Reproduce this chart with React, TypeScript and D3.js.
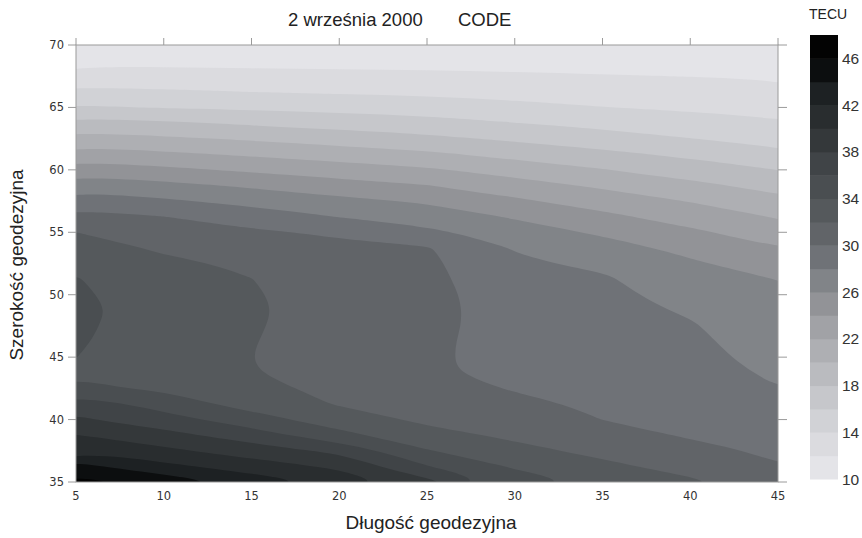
import * as d3 from 'd3'

// grid nodes: longitude columns (°E) and latitude rows (°N, north → south)
const LON = [5, 10, 15, 20, 25, 30, 35, 40, 45]
const LAT = [70, 68.75, 67.5, 66.25, 65, 63.75, 62.5, 61.25, 60, 58.75, 57.5, 56.25, 55, 53.75,
  52.5, 51.25, 50, 48.75, 47.5, 46.25, 45, 43.75, 42.5, 41.25, 40, 38.75, 37.5, 36.25, 35]

// TEC [TECU], one row per LAT, one value per LON
const TEC = [
  [10.2, 10.3, 10.2, 10.1, 10.2, 10.2, 10.2, 10.24, 10.25],
  [11.45, 11.45, 11.39, 11.32, 11.33, 11.24, 11.16, 11.1, 11.03],
  [12.88, 12.77, 12.65, 12.55, 12.45, 12.28, 12.12, 11.97, 11.81],
  [14.47, 14.25, 13.99, 13.77, 13.59, 13.33, 13.08, 12.84, 12.59],
  [16.22, 15.92, 15.65, 15.36, 15.07, 14.53, 14.04, 13.71, 13.38],
  [18.75, 18.28, 17.69, 17.16, 16.73, 16.04, 15.41, 14.81, 14.22],
  [20.83, 20.33, 19.73, 19.09, 18.46, 17.66, 16.89, 16.04, 15.3],
  [22.92, 22.37, 21.73, 21.06, 20.38, 19.39, 18.48, 17.57, 16.53],
  [25.2, 24.44, 23.67, 22.96, 22.29, 21.14, 20.09, 19.05, 17.98],
  [27.21, 26.54, 25.7, 24.81, 24.07, 22.8, 21.66, 20.49, 19.32],
  [29.08, 28.29, 27.36, 26.51, 25.73, 24.35, 23.1, 21.9, 20.6],
  [30.68, 30.03, 29.07, 27.94, 27.05, 25.8, 24.46, 23.15, 21.85],
  [32.0, 30.9, 30.28, 29.71, 28.46, 26.87, 25.73, 24.36, 22.96],
  [32.77, 31.76, 31.0, 30.4, 30.15, 27.88, 26.72, 25.47, 24.04],
  [33.54, 32.3, 31.74, 30.8, 30.4, 28.3, 27.63, 26.27, 25.0],
  [34.13, 32.35, 32.02, 31.05, 30.55, 28.55, 28.25, 26.78, 25.96],
  [34.47, 32.4, 32.15, 31.2, 30.7, 28.75, 28.5, 27.3, 26.28],
  [34.8, 32.4, 32.2, 31.3, 30.75, 28.85, 28.6, 27.81, 26.57],
  [34.56, 32.4, 32.15, 31.25, 30.72, 28.85, 28.65, 28.15, 26.85],
  [34.3, 32.5, 32.07, 31.2, 30.6, 28.8, 28.65, 28.35, 27.15],
  [34.02, 32.8, 32.01, 31.2, 30.5, 28.9, 28.7, 28.5, 27.44],
  [33.8, 33.3, 32.08, 31.3, 30.45, 29.2, 28.9, 28.7, 27.73],
  [34.36, 33.7, 32.5, 31.5, 30.8, 29.85, 29.2, 28.95, 28.02],
  [37.29, 35.07, 33.2, 31.85, 31.3, 30.49, 29.6, 29.3, 28.44],
  [38.29, 36.86, 34.83, 33.0, 31.6, 31.07, 29.98, 29.6, 28.85],
  [40.07, 38.64, 37.0, 34.56, 32.65, 31.65, 30.75, 29.8, 29.26],
  [41.86, 40.46, 39.0, 37.5, 34.15, 32.5, 31.55, 30.55, 29.67],
  [44.64, 42.56, 41.0, 39.6, 36.1, 33.75, 32.4, 31.39, 30.08],
  [46.6, 45.3, 43.2, 41.3, 38.6, 35.0, 33.5, 32.3, 30.8],
]

// contour levels (lower edge of each 2-TECU band) and their greys
const LEVELS = [10, 12, 14, 16, 18, 20, 22, 24, 26, 28, 30, 32, 34, 36, 38, 40, 42, 44, 46]
const LEVEL_COLORS = [
  '#e4e4e8', '#dbdbdf', '#d1d2d6', '#c6c7cb', '#babbbf', '#aeafb3', '#a1a2a6', '#929397',
  '#818488', '#6f7277', '#616468', '#55595c', '#4a4e51', '#404447', '#34383a', '#292d2f',
  '#1d2123', '#0c0e0f', '#030303',
]
const BAR_MAX = 48

const X_TICKS = [5, 10, 15, 20, 25, 30, 35, 40, 45]
const Y_TICKS = [35, 40, 45, 50, 55, 60, 65, 70]
const BAR_TICKS = [10, 14, 18, 22, 26, 30, 34, 38, 42, 46]

const AXIS = '#9a9a9a'
const INK = '#333'

export default function App() {
  const plot = { left: 76, right: 778, top: 45, bottom: 482 }
  const x = d3.scaleLinear().domain([5, 45]).range([plot.left, plot.right])
  const y = d3.scaleLinear().domain([35, 70]).range([plot.bottom, plot.top])
  const bar = d3.scaleLinear().domain([LEVELS[0], BAR_MAX]).range([479, 35])

  // d3.contours puts grid value i at i + 0.5
  const dLon = LON[1] - LON[0]
  const dLat = LAT[1] - LAT[0]
  const gx = (i: number) => x(LON[0] + (i - 0.5) * dLon)
  const gy = (j: number) => y(LAT[0] + (j - 0.5) * dLat)

  const bands = d3.contours()
    .size([LON.length, LAT.length])
    .thresholds(LEVELS)(TEC.flat())

  // smooth the marching-squares rings
  const ring = d3.line().curve(d3.curveBasisClosed)
  const toPath = (g: any) =>
    g.coordinates
      .map((poly: number[][][]) =>
        poly.map(r => ring(r.slice(0, -1).map(([a, b]) => [gx(a), gy(b)]) as [number, number][])).join(''))
      .join('')

  const sans = '"Liberation Sans", Arial, sans-serif'
  const wide = '"DejaVu Sans", Verdana, sans-serif'

  return (
    <svg width={862} height={538} style={{ position: 'absolute', left: 0, top: 0, background: '#fff' }}>
      <defs>
        <clipPath id="plot-clip">
          <rect x={plot.left} y={plot.top} width={plot.right - plot.left} height={plot.bottom - plot.top} />
        </clipPath>
      </defs>

      <text x={288} y={26} fontFamily={sans} fontSize={18.5} fill="#222">2 września 2000</text>
      <text x={458} y={26} fontFamily={sans} fontSize={18.5} fill="#222">CODE</text>

      <g clipPath="url(#plot-clip)">
        <rect x={plot.left} y={plot.top} width={plot.right - plot.left} height={plot.bottom - plot.top} fill={LEVEL_COLORS[0]} />
        {bands.map((b, i) => (
          <path key={b.value} d={toPath(b)} fill={LEVEL_COLORS[i]} fillRule="evenodd" />
        ))}
      </g>

      {/* frame */}
      <rect x={plot.left} y={plot.top} width={plot.right - plot.left} height={plot.bottom - plot.top}
        fill="none" stroke={AXIS} strokeWidth={1} />

      {/* top ticks */}
      {X_TICKS.map(t => (
        <line key={'tt' + t} x1={x(t)} x2={x(t)} y1={plot.top} y2={plot.top - 7} stroke={AXIS} />
      ))}
      {/* bottom labels */}
      {X_TICKS.map(t => (
        <text key={'bx' + t} x={x(t)} y={500} textAnchor="middle" fontFamily={wide} fontSize={11.5} fill={INK}>{t}</text>
      ))}
      {/* left ticks + labels */}
      {Y_TICKS.map(t => (
        <g key={'ly' + t}>
          <line x1={plot.left - 8} x2={plot.left} y1={y(t)} y2={y(t)} stroke={AXIS} />
          <text x={64} y={y(t) + 4} textAnchor="end" fontFamily={wide} fontSize={11.5} fill={INK}>{t}</text>
        </g>
      ))}
      {/* right ticks */}
      {Y_TICKS.map(t => (
        <line key={'ry' + t} x1={plot.right} x2={plot.right + 9} y1={y(t)} y2={y(t)} stroke={AXIS} />
      ))}

      <text x={431} y={529} textAnchor="middle" fontFamily={sans} fontSize={19} fill="#222">Długość geodezyjna</text>
      <text transform={`translate(23,${265}) rotate(-90)`} textAnchor="middle" fontFamily={sans} fontSize={19} fill="#222">
        Szerokość geodezyjna
      </text>

      {/* colour bar */}
      <text x={809} y={19} fontFamily={sans} fontSize={14} fill="#222">TECU</text>
      {LEVELS.map((lv, i) => {
        const top = bar(i + 1 < LEVELS.length ? LEVELS[i + 1] : BAR_MAX)
        return <rect key={'cb' + lv} x={810} y={top} width={28} height={bar(lv) - top + 0.5} fill={LEVEL_COLORS[i]} />
      })}
      {BAR_TICKS.map(t => (
        <text key={'bt' + t} x={842} y={bar(t) + 5.5} fontFamily={sans} fontSize={15.5} fill={INK}>{t}</text>
      ))}
    </svg>
  )
}
